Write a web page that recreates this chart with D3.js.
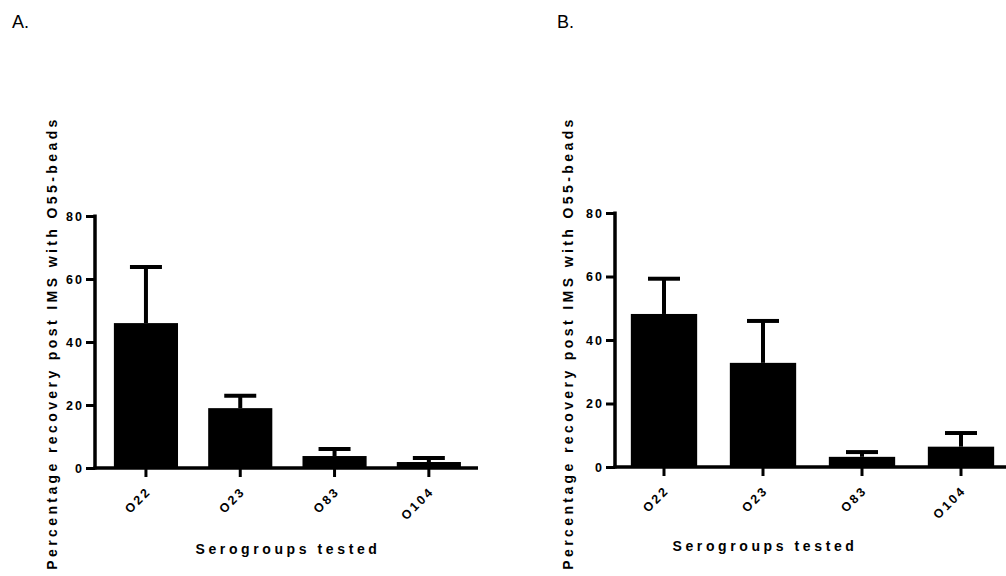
<!DOCTYPE html>
<html>
<head>
<meta charset="utf-8">
<script src="https://cdn.jsdelivr.net/npm/d3@7"></script>
<style>
  body { margin: 0; background: #fff; }
  text { font-family: "Liberation Sans", Arial, sans-serif; fill: #000; }
  .tick-lbl { font-size: 12.5px; font-weight: bold; letter-spacing: 2px; }
  .cat-lbl { font-size: 12.5px; font-weight: bold; letter-spacing: 2.5px; }
  .ax-title { font-size: 14px; font-weight: bold; letter-spacing: 3.6px; }
  .y-title { letter-spacing: 3.4px; }
  .panel-lbl { font-size: 18px; }
</style>
</head>
<body>
<script>
// data
var categories = ["O22", "O23", "O83", "O104"];
var yTicks = [0, 20, 40, 60, 80];
var meansA = [46, 19, 3.8, 1.9];
var errA = [17.8, 3.9, 2.2, 1.3];
var meansB = [48.2, 32.8, 3.2, 6.4];
var errB = [11.1, 13.2, 1.5, 4.3];
var yTitle = "Percentage recovery post IMS with O55-beads";
var xTitle = "Serogroups tested";

var svg = d3.select("body").append("svg")
    .attr("width", 1006)
    .attr("height", 576);

// one panel per graph
var panels = [
    { label: "A.", lx: 12, means: meansA, errs: errA,
      axisX: 95, axisEnd: 478, band: [98.8, 476], y0: 468, y80: 216,
      pad: 0.32, titleX: 288, titleY: 554, yTitleX: 57 },
    { label: "B.", lx: 557, means: meansB, errs: errB,
      axisX: 615, axisEnd: 1010, band: [614.5, 1010.5], y0: 467, y80: 213,
      pad: 0.33, titleX: 765, titleY: 551, yTitleX: 573 }
];

panels.forEach(function (p) {
    var g = svg.append("g");

    var x = d3.scaleBand().domain(categories).range(p.band).paddingInner(p.pad).paddingOuter(p.pad / 2);
    var y = d3.scaleLinear().domain([0, 80]).range([p.y0, p.y80]);

    var data = categories.map(function (c, i) {
        return { cat: c, mean: p.means[i], err: p.errs[i] };
    });
    var cx = function (d) { return x(d.cat) + x.bandwidth() / 2; };

    // bars
    g.selectAll(".bar")
        .data(data)
        .enter()
        .append("rect")
        .attr("class", "bar")
        .attr("x", function (d) { return x(d.cat); })
        .attr("width", x.bandwidth())
        .attr("y", function (d) { return y(d.mean); })
        .attr("height", function (d) { return y(0) - y(d.mean); })
        .attr("fill", "#000");

    // error bars (upper only)
    g.selectAll(".err")
        .data(data)
        .enter()
        .append("line")
        .attr("x1", cx).attr("x2", cx)
        .attr("y1", function (d) { return y(d.mean); })
        .attr("y2", function (d) { return y(d.mean + d.err); })
        .attr("stroke", "#000").attr("stroke-width", 4);
    g.selectAll(".cap")
        .data(data)
        .enter()
        .append("line")
        .attr("x1", function (d) { return cx(d) - 16; })
        .attr("x2", function (d) { return cx(d) + 16; })
        .attr("y1", function (d) { return y(d.mean + d.err); })
        .attr("y2", function (d) { return y(d.mean + d.err); })
        .attr("stroke", "#000").attr("stroke-width", 4);

    // y axis
    var yAxis = d3.axisLeft(y).tickValues(yTicks).tickSize(9).tickPadding(2);
    var ya = g.append("g")
        .attr("transform", "translate(" + p.axisX + ",0)")
        .call(yAxis);
    ya.select(".domain").remove();
    ya.selectAll(".tick line").attr("stroke", "#000").attr("stroke-width", 3);
    ya.selectAll(".tick text")
        .attr("class", "tick-lbl")
        .attr("font-family", null).attr("font-size", null);

    // x axis, ticks only - labels drawn below
    var xAxis = d3.axisBottom(x).tickSize(9).tickSizeOuter(0).tickFormat("");
    var xa = g.append("g")
        .attr("transform", "translate(0," + p.y0 + ")")
        .call(xAxis);
    xa.select(".domain").remove();
    xa.selectAll(".tick line").attr("stroke", "#000").attr("stroke-width", 3);

    g.selectAll(".cat-lbl")
        .data(categories)
        .enter()
        .append("text")
        .attr("class", "cat-lbl")
        .attr("text-anchor", "end")
        .attr("transform", function (c) {
            return "translate(" + (x(c) + x.bandwidth() / 2 + 6) + "," + (p.y0 + 24) + ") rotate(-45)";
        })
        .text(function (c) { return c; });

    // axis lines
    g.append("line")
        .attr("x1", p.axisX).attr("x2", p.axisX)
        .attr("y1", y(80) - 1.5).attr("y2", y(0) + 1.5)
        .attr("stroke", "#000").attr("stroke-width", 3.5);
    g.append("line")
        .attr("x1", p.axisX - 1.5).attr("x2", p.axisEnd)
        .attr("y1", y(0)).attr("y2", y(0))
        .attr("stroke", "#000").attr("stroke-width", 3.5);

    // titles
    g.append("text")
        .attr("class", "ax-title")
        .attr("x", p.titleX).attr("y", p.titleY)
        .attr("text-anchor", "middle")
        .text(xTitle);
    g.append("text")
        .attr("class", "ax-title y-title")
        .attr("transform", "translate(" + p.yTitleX + ",343) rotate(-90)")
        .attr("text-anchor", "middle")
        .text(yTitle);

    g.append("text")
        .attr("class", "panel-lbl")
        .attr("x", p.lx).attr("y", 28)
        .text(p.label);
});
</script>
</body>
</html>
